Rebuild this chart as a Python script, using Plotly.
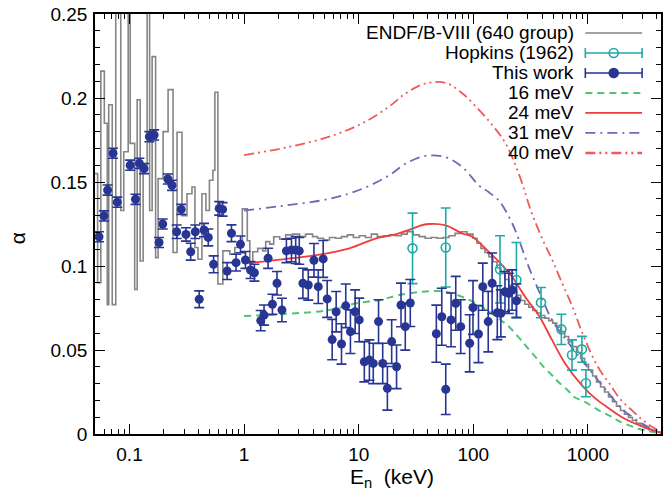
import math
import plotly.graph_objects as go

# ---------------- data ----------------
# ENDF/B-VIII (640 group): group lower edges [keV] and capture-to-fission ratio
endf_e = [0.0500, 0.0527, 0.0562, 0.0603, 0.0640, 0.0659, 0.0707, 0.0759, 0.0839, 0.0891,
          0.0974, 0.1014, 0.111, 0.1167, 0.1239, 0.1315, 0.1425, 0.1498, 0.1576, 0.169,
          0.1777, 0.1964, 0.2171, 0.2399, 0.26, 0.2872, 0.3175, 0.3509, 0.3726, 0.3957,
          0.4287, 0.4645, 0.4981, 0.5342, 0.556, 0.5905, 0.6528, 0.751, 0.830, 0.9645,
          1.066, 1.121, 1.190, 1.315, 1.454, 1.544, 1.673, 1.813, 2.044, 2.305,
          2.652, 3.050, 3.440, 3.957, 4.374, 4.932, 5.563, 6.272, 7.072, 7.973,
          8.994, 10.14, 11.44, 12.90, 14.54, 16.40, 18.49, 20.85, 23.51, 26.51,
          29.90, 33.72, 38.02, 42.87, 48.34, 54.52, 61.48, 69.33, 78.17, 88.15,
          99.40, 107.7, 116.7, 126.4, 136.9, 148.4, 160.8, 174.2, 188.7, 204.4,
          221.4, 239.9, 259.9, 281.6, 305.1, 330.5, 358.1, 387.9, 420.3, 455.3,
          493.3, 534.4, 578.9, 627.2, 679.5, 736.2, 797.6, 864.1, 936.1, 1014,
          1099, 1191, 1290, 1397, 1514, 1640, 1777, 1925, 2085, 2259,
          2448, 2652, 2873, 3112, 3372, 3653, 3957, 4287, 4345]
endf_a = [0.155, 0.090, 0.216, 0.185, 0.077, 0.196, 0.077, 0.300, 0.133, 0.168,
          0.300, 0.173, 0.086, 0.199, 0.103, 0.160, 0.300, 0.133, 0.2246, 0.105,
          0.152, 0.180, 0.205, 0.108, 0.1796, 0.130, 0.143, 0.147, 0.111, 0.104,
          0.143, 0.133, 0.151, 0.157, 0.2034, 0.0893, 0.109, 0.107, 0.111, 0.134,
          0.115, 0.1016, 0.1085, 0.1105, 0.109, 0.1145, 0.113, 0.1174, 0.116, 0.1185,
          0.119, 0.1175, 0.119, 0.1175, 0.1165, 0.1155, 0.117, 0.1165, 0.1175, 0.1185,
          0.117, 0.118, 0.117, 0.119, 0.1175, 0.118, 0.1185, 0.118, 0.119, 0.1204,
          0.1185, 0.1175, 0.1165, 0.117, 0.1165, 0.117, 0.118, 0.1194, 0.1204, 0.119,
          0.1165, 0.1135, 0.1105, 0.108, 0.1055, 0.1025, 0.099, 0.0955, 0.092, 0.0885,
          0.0855, 0.0825, 0.0795, 0.0772, 0.0755, 0.0735, 0.072, 0.0705, 0.069, 0.0675,
          0.066, 0.0635, 0.061, 0.058, 0.055, 0.052, 0.0485, 0.045, 0.0415, 0.038,
          0.0345, 0.031, 0.028, 0.025, 0.022, 0.0192, 0.0165, 0.014, 0.0118, 0.0098,
          0.008, 0.0063, 0.0048, 0.0036, 0.0026, 0.0018, 0.0012, 0.0008, 0.0008]

# Hopkins (1962)
hop_e = [29.5, 57.5, 171, 238, 390, 587, 727, 887, 961]
hop_a = [0.1105, 0.111, 0.098, 0.0917, 0.0782, 0.0623, 0.047, 0.0504, 0.0302]
hop_err = [0.021, 0.0235, 0.020, 0.0223, 0.009, 0.009, 0.009, 0.0077, 0.008]

# This work
tw_e = [0.0542, 0.0599, 0.0644, 0.0718, 0.0782, 0.1014, 0.1128, 0.122, 0.134, 0.149,
        0.164, 0.181, 0.195, 0.216, 0.235, 0.258, 0.283, 0.311, 0.342, 0.375,
        0.406, 0.447, 0.487, 0.542, 0.607, 0.649, 0.711, 0.776, 0.851, 0.93,
        1.028, 1.137, 1.23, 1.397, 1.493, 1.62, 1.767, 1.937, 2.14, 2.34,
        2.59, 2.82, 3.03, 3.26, 3.63, 4.07, 4.44, 4.9, 5.31, 5.87,
        6.36, 7.08, 7.71, 8.47, 9.31, 10.1, 11.2, 12.4, 13.4, 14.9,
        16.2, 17.8, 19.4, 21.4, 23.4, 25.5, 28.2, 47.6, 53.1, 57.5,
        64, 70.3, 77.7, 93, 99.4, 111, 121, 135, 146, 162,
        174, 189, 204, 218, 238]
tw_a = [0.1174, 0.1298, 0.1452, 0.1671, 0.138, 0.160, 0.1397, 0.1611, 0.158, 0.177,
        0.178, 0.114, 0.125, 0.1518, 0.148, 0.1204, 0.1337, 0.1188, 0.1085, 0.1204,
        0.0802, 0.1214, 0.117, 0.101, 0.1343, 0.1337, 0.097, 0.1195, 0.102, 0.1129,
        0.1036, 0.0976, 0.096, 0.0675, 0.0708, 0.1046, 0.0772, 0.0897, 0.0738, 0.109,
        0.1095, 0.1095, 0.109, 0.0897, 0.0887, 0.1034, 0.0877, 0.1042, 0.0804, 0.0562,
        0.0728, 0.0536, 0.0763, 0.0609, 0.0728, 0.0679, 0.043, 0.044, 0.042, 0.0669,
        0.042, 0.0272, 0.055, 0.040, 0.0768, 0.0639, 0.078, 0.0597, 0.0698, 0.0266,
        0.0679, 0.0778, 0.0639, 0.054, 0.0753, 0.0595, 0.0877, 0.0669, 0.0897, 0.0722,
        0.0718, 0.0847, 0.0837, 0.0857, 0.0793]
tw_err = [0.003, 0.003, 0.003, 0.003, 0.003, 0.003, 0.003, 0.003, 0.003, 0.003,
          0.003, 0.003, 0.003, 0.003, 0.003, 0.004, 0.003, 0.004, 0.005, 0.004,
          0.005, 0.004, 0.005, 0.005, 0.004, 0.004, 0.005, 0.005, 0.005, 0.005,
          0.005, 0.005, 0.005, 0.006, 0.006, 0.006, 0.006, 0.007, 0.007, 0.007,
          0.007, 0.008, 0.008, 0.009, 0.009, 0.010, 0.010, 0.011, 0.011, 0.012,
          0.012, 0.012, 0.013, 0.013, 0.013, 0.013, 0.012, 0.012, 0.012, 0.013,
          0.012, 0.013, 0.013, 0.013, 0.013, 0.014, 0.014, 0.017, 0.017, 0.015,
          0.016, 0.016, 0.016, 0.017, 0.016, 0.017, 0.014, 0.018, 0.018, 0.016,
          0.014, 0.012, 0.012, 0.012, 0.010]

# model calculations for several level-density / strength parameters
m16_e = [1.0, 2.0, 5.6, 9.5, 15.4, 22, 36, 57.5, 92, 127, 146, 180, 204, 249, 283,
         347, 398, 486, 553, 680, 760, 950, 1290, 1585, 1850, 2540, 3300, 4345]
m16_a = [0.0702, 0.0712, 0.0738, 0.0778, 0.0798, 0.0825, 0.0847, 0.0847, 0.0798, 0.0745,
         0.0715, 0.067, 0.064, 0.0575, 0.053, 0.046, 0.041, 0.035, 0.031, 0.0255,
         0.022, 0.019, 0.0135, 0.0105, 0.0078, 0.004, 0.0018, 0.0004]

m24_e = [1.0, 2.18, 4.27, 8.3, 14.2, 20, 27.6, 33.7, 41, 57.5, 80, 98, 127, 167, 218,
         283, 371, 486, 633, 887, 1160, 1520, 1950, 2540, 3300, 4345]
m24_a = [0.1016, 0.104, 0.1065, 0.1105, 0.1165, 0.1185, 0.1215, 0.1238, 0.125, 0.1242,
         0.1194, 0.1174, 0.1105, 0.1026, 0.0936, 0.0817, 0.0708, 0.056, 0.042, 0.029,
         0.0212, 0.0153, 0.0103, 0.0064, 0.0034, 0.0008]

m31_e = [1.0, 2.0, 5.56, 10.8, 18.5, 25.8, 38.5, 57.5, 80, 112, 136, 167, 191, 220, 249,
         304, 371, 486, 680, 887, 1160, 1520, 1950, 2540, 3300, 4345]
m31_a = [0.133, 0.1355, 0.140, 0.146, 0.154, 0.161, 0.1655, 0.1647, 0.159, 0.148,
         0.144, 0.139, 0.133, 0.125, 0.116, 0.0996, 0.0857, 0.068, 0.054, 0.044,
         0.034, 0.0242, 0.0153, 0.0093, 0.0044, 0.001]

m40_e = [1.0, 2.5, 5.56, 10.8, 18.5, 25.8, 38.5, 57.5, 80, 105, 146, 191, 249, 326, 420,
         486, 553, 640, 736, 850, 947, 1100, 1300, 1580, 1900, 2390, 2930, 3600, 4345]
m40_a = [0.166, 0.171, 0.177, 0.185, 0.195, 0.2028, 0.2087, 0.209, 0.2028, 0.195,
         0.184, 0.173, 0.155, 0.131, 0.113, 0.104, 0.095, 0.085, 0.0755, 0.064,
         0.056, 0.046, 0.037, 0.029, 0.021, 0.0145, 0.009, 0.0044, 0.0012]

x_tick_vals = [0.1, 1, 10, 100, 1000]
x_tick_text = ["0.1", "1", "10", "100", "1000"]
y_tick_vals = [0, 0.05, 0.1, 0.15, 0.2, 0.25]
y_tick_text = ["0", "0.05", "0.1", "0.15", "0.2", "0.25"]

# ---------------- styles ----------------
C_ENDF = "#858585"
C_HOP = "#1fa9a6"
C_TW = "#283593"
C_16 = "#52c275"
C_24 = "#f03c3c"
C_31 = "#6a6ab8"
C_40 = "#f05a5a"
FONT = "Liberation Sans, Arial, sans-serif"
FS = 19

D_16 = "7px,5px"
D_31 = "10px,5px,2px,5px"
D_40 = "10px,4px,2px,4px,2px,4px"

fig = go.Figure()

fig.add_trace(go.Scatter(x=endf_e, y=endf_a, mode="lines", line_shape="hv",
                         line=dict(color=C_ENDF, width=1.6), showlegend=False))
fig.add_trace(go.Scatter(x=m16_e, y=m16_a, mode="lines", line_shape="spline",
                         line=dict(color=C_16, width=2, dash=D_16), showlegend=False))
fig.add_trace(go.Scatter(x=m24_e, y=m24_a, mode="lines", line_shape="spline",
                         line=dict(color=C_24, width=1.8), showlegend=False))
fig.add_trace(go.Scatter(x=m31_e, y=m31_a, mode="lines", line_shape="spline",
                         line=dict(color=C_31, width=1.8, dash=D_31), showlegend=False))
fig.add_trace(go.Scatter(x=m40_e, y=m40_a, mode="lines", line_shape="spline",
                         line=dict(color=C_40, width=1.8, dash=D_40), showlegend=False))

fig.add_trace(go.Scatter(
    x=hop_e, y=hop_a, mode="markers",
    marker=dict(symbol="circle-open", size=9, color=C_HOP, line=dict(width=1.6, color=C_HOP)),
    error_y=dict(type="data", array=hop_err, color=C_HOP, thickness=1.6, width=5),
    showlegend=False))

fig.add_trace(go.Scatter(
    x=tw_e, y=tw_a, mode="markers",
    marker=dict(symbol="circle", size=9, color=C_TW),
    error_y=dict(type="data", array=tw_err, color=C_TW, thickness=1.6, width=5),
    showlegend=False))

# ---------------- key (text on the left, sample on the right) ----------------
key_rows = [
    ("ENDF/B-VIII (640 group)", dict(color=C_ENDF, width=1.6), None),
    ("Hopkins (1962)", dict(color=C_HOP, width=1.6), "hop"),
    ("This work", dict(color=C_TW, width=1.6), "tw"),
    ("16 meV", dict(color=C_16, width=2, dash=D_16), None),
    ("24 meV", dict(color=C_24, width=1.8), None),
    ("31 meV", dict(color=C_31, width=1.8, dash=D_31), None),
    ("40 meV", dict(color=C_40, width=2.4, dash=D_40), None),
]
key_top = 0.9548
key_step = 0.0476
key_text_x = 0.8505
key_x0, key_x1 = 0.8663, 0.9666
key_xm = (key_x0 + key_x1) / 2

for i, (label, lstyle, kind) in enumerate(key_rows):
    yk = key_top - i * key_step
    fig.add_annotation(x=key_text_x, y=yk, xref="paper", yref="paper", text=label,
                       showarrow=False, xanchor="right", yanchor="middle",
                       font=dict(family=FONT, size=FS, color="black"))
    if kind is None:
        fig.add_trace(go.Scatter(x=[key_x0, key_x1], y=[yk, yk], mode="lines",
                                 line=lstyle, xaxis="x2", yaxis="y2",
                                 showlegend=False, hoverinfo="skip"))
    else:
        col = C_HOP if kind == "hop" else C_TW
        sym = "circle-open" if kind == "hop" else "circle"
        fig.add_trace(go.Scatter(
            x=[key_xm], y=[yk], mode="markers", xaxis="x2", yaxis="y2",
            marker=dict(symbol=sym, size=9, color=col, line=dict(width=1.6, color=col)),
            error_x=dict(type="data", array=[(key_x1 - key_x0) / 2], color=col,
                         thickness=1.6, width=5),
            showlegend=False, hoverinfo="skip"))

# ---------------- axes ----------------
minor_x = [d * 10 ** p for p in range(-2, 4) for d in range(2, 10)
           if 0.05 < d * 10 ** p < 4345]
minor_y = [k / 100 for k in range(1, 25) if k % 5 != 0]

axis_common = dict(showline=True, linecolor="black", linewidth=1.5, mirror="allticks",
                   ticks="inside", ticklen=10, tickwidth=1.3, tickcolor="black",
                   showgrid=False, zeroline=False,
                   tickfont=dict(family=FONT, size=FS, color="black"))

fig.update_layout(
    width=664, height=497,
    margin=dict(l=95, r=1, t=14, b=63),
    paper_bgcolor="white", plot_bgcolor="white",
    font=dict(family=FONT, size=FS, color="black"),
    xaxis=dict(type="log", range=[math.log10(0.05), math.log10(4345)],
               tickmode="array", tickvals=x_tick_vals, ticktext=x_tick_text,
               ticklabelstandoff=2,
               minor=dict(tickmode="array", tickvals=minor_x, ticks="inside", ticklen=5,
                          tickwidth=1.3, tickcolor="black"),
               **axis_common),
    yaxis=dict(range=[0, 0.25], tickmode="array", tickvals=y_tick_vals, ticktext=y_tick_text,
               ticklabelstandoff=2,
               minor=dict(tickmode="array", tickvals=minor_y, ticks="inside", ticklen=5,
                          tickwidth=1.3, tickcolor="black"),
               **axis_common),
    xaxis2=dict(overlaying="x", range=[0, 1], visible=False, fixedrange=True),
    yaxis2=dict(overlaying="y", range=[0, 1], visible=False, fixedrange=True),
    showlegend=False,
)

fig.add_annotation(x=0.5246, y=-0.105, xref="paper", yref="paper",
                   text="E<sub>n</sub>\u00a0\u00a0(keV)", showarrow=False,
                   xanchor="center", yanchor="middle",
                   font=dict(family=FONT, size=21, color="black"))
fig.add_annotation(x=-0.1356, y=0.4667, xref="paper", yref="paper",
                   text="α", showarrow=False, textangle=-90,
                   xanchor="center", yanchor="middle",
                   font=dict(family=FONT, size=21, color="black"))

fig.write_html("out.html")
